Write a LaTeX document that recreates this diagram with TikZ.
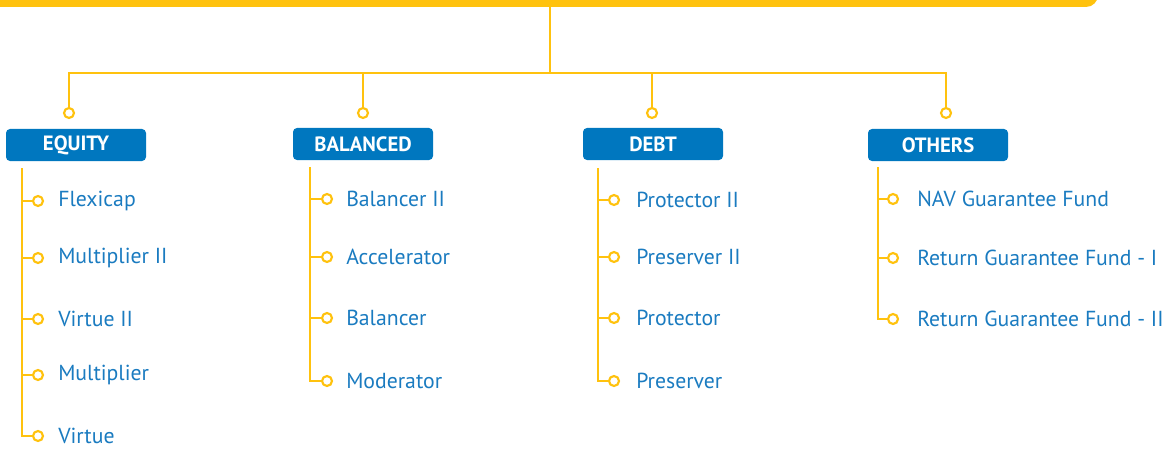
\documentclass[tikz,border=0pt]{standalone}
\usepackage{fontspec}
\setmainfont{PT Sans}
\usepackage{xcolor}
\definecolor{fundyellow}{HTML}{FFC20E}
\definecolor{fundblue}{HTML}{0077BF}
\definecolor{leafblue}{HTML}{1A7BC0}

\begin{document}
\begin{tikzpicture}[x=0.75pt,y=0.75pt,yscale=-1,xscale=1,
	link/.style={color=fundyellow,line width=2.1pt},
	dot/.style={circle,draw=fundyellow,fill=white,line width=1.6pt,inner sep=0pt,minimum size=7.5pt},
	head/.style={rounded corners=3pt,fill=fundblue,text=white,font=\bfseries\fontsize{15.5}{17}\selectfont,minimum width=105pt,minimum height=24pt,inner sep=0pt},
	leaf/.style={anchor=west,text=leafblue,font=\fontsize{16.3}{18}\selectfont,inner sep=0pt}]
	\clip (0,0) rectangle (1176,449);
	\fill [fundyellow,rounded corners=9pt] (-30,-40) rectangle (1098,7);
	\coordinate (top) at (550,7);
	\coordinate (hub) at (550,73);
	\node [dot] (eqdot) at (69,113) {};
	\node [dot] (baldot) at (363,113) {};
	\node [dot] (debtdot) at (652,113) {};
	\node [dot] (othdot) at (946,113) {};
	\draw [link] (top) -- (hub);
	\draw [link] (eqdot.north) |- (hub) -| (othdot.north);
	\draw [link] (baldot.north) -- (baldot.north |- hub);
	\draw [link] (debtdot.north) -- (debtdot.north |- hub);
	\node [head] (equity) at (76,145) {EQUITY};
	\node [head] (balanced) at (363,144) {BALANCED};
	\node [head] (debt) at (653,144) {DEBT};
	\node [head] (others) at (938,145) {OTHERS};
	% equity funds
	\coordinate (eqtop) at (22,168);
	\foreach \fund/\y [count=\i] in {Flexicap/201,Multiplier II/258,Virtue II/319,Multiplier/375,Virtue/436}{
		\node [dot] (eq\i) at (38,\y) {};
		\node [leaf] (eqname\i) at (58,\y) {\fund};
		\draw [link] (eqtop) |- (eq\i);
	}
	% balanced funds
	\coordinate (baltop) at (310,167);
	\foreach \fund/\y [count=\i] in {Balancer II/199,Accelerator/257,Balancer/318,Moderator/381}{
		\node [dot] (bal\i) at (327,\y) {};
		\node [leaf] (balname\i) at (346,\y) {\fund};
		\draw [link] (baltop) |- (bal\i);
	}
	% debt funds
	\coordinate (debttop) at (598,168);
	\foreach \fund/\y [count=\i] in {Protector II/200,Preserver II/257,Protector/318,Preserver/381}{
		\node [dot] (debt\i) at (614,\y) {};
		\node [leaf] (debtname\i) at (636,\y) {\fund};
		\draw [link] (debttop) |- (debt\i);
	}
	% other funds
	\coordinate (othtop) at (878,167);
	\foreach \fund/\y [count=\i] in {NAV Guarantee Fund/199,Return Guarantee Fund - I/258,Return Guarantee Fund - II/319}{
		\node [dot] (oth\i) at (893,\y) {};
		\node [leaf] (othname\i) at (917,\y) {\fund};
		\draw [link] (othtop) |- (oth\i);
	}
\end{tikzpicture}
\end{document}
